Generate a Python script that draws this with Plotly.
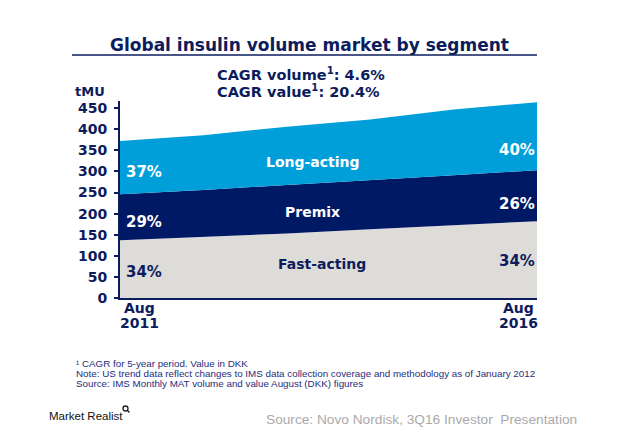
import numpy as np
import plotly.graph_objects as go

years = [2011, 2012, 2013, 2014, 2015, 2016]
fast_acting = [137, 145, 153, 163, 173, 182]
premix = [109, 111, 115, 116, 118, 121]
long_acting = [126, 130, 138, 144, 156, 161]
y_ticks = [0, 50, 100, 150, 200, 250, 300, 350, 400, 450]
x_labels = ["Aug<br>2011", "Aug<br>2016"]
pct_2011 = ["34%", "29%", "37%"]
pct_2016 = ["34%", "26%", "40%"]
segment_names = ["Fast-acting", "Premix", "Long-acting"]
title = "Global insulin volume market by segment"
cagr_lines = ["CAGR volume<sup>1</sup>: 4.6%", "CAGR value<sup>1</sup>: 20.4%"]
footnotes = ["¹ CAGR for 5-year period. Value in DKK",
             "Note: US trend data reflect changes to IMS data collection coverage and methodology as of January 2012",
             "Source: IMS Monthly MAT volume and value August (DKK) figures"]
source = "Source: Novo Nordisk, 3Q16 Investor  Presentation"

NAVY = "#0d1c5c"
DARK = "#001965"
LIGHT = "#009fda"
GRAY = "#dddcd8"
FONT = "DejaVu Sans"

# page offset compensation (body margin ~8px); plot area in figure px
L, R, T, B = 112, 529, 93, 290
W, H = 620, 446

def px(X):
    return (X - 8 - L) / (R - L)

def py(Y):
    return (B - (Y - 8)) / (B - T)

fig = go.Figure()
for vals, col, name in [(fast_acting, GRAY, segment_names[0]),
                        (premix, DARK, segment_names[1]),
                        (long_acting, LIGHT, segment_names[2])]:
    fig.add_trace(go.Scatter(x=years, y=vals, stackgroup="one", mode="lines",
                             line=dict(width=0, color=col), fillcolor=col,
                             name=name, hoverinfo="skip"))

c1 = np.array(fast_acting, float)
c2 = c1 + np.array(premix, float)
c3 = c2 + np.array(long_acting, float)
bands = [(np.zeros(6), c1), (c1, c2), (c2, c3)]

ann = []
tf = dict(family=FONT, size=15, weight="bold")
left_off = [-6.5, -11.5, -10]
right_off = [-3, -20, -33]
for i, (lo, hi) in enumerate(bands):
    col = NAVY if i == 0 else "white"
    ann.append(dict(x=years[0], y=(lo[0] + hi[0]) / 2 + left_off[i], text=pct_2011[i],
                    xanchor="left", xshift=4, showarrow=False, font=dict(tf, color=col)))
    ann.append(dict(x=years[-1], y=(lo[-1] + hi[-1]) / 2 + right_off[i], text=pct_2016[i],
                    xanchor="right", showarrow=False, font=dict(tf, color=col)))

seg_x = [2013.42, 2013.31, 2013.31]
seg_off = [3, -10, -19]
for i, (lo, hi) in enumerate(bands):
    m = (np.interp(seg_x[i], years, lo) + np.interp(seg_x[i], years, hi)) / 2
    ann.append(dict(x=seg_x[i], y=m + seg_off[i], text=segment_names[i], showarrow=False,
                    font=dict(family=FONT, size=14, weight="bold",
                              color=NAVY if i == 0 else "white")))

# x category labels (two lines each)
for xv, lab, sh in [(years[0], x_labels[0], 19), (years[-1], x_labels[1], -19)]:
    parts = lab.split("<br>")
    for j, part in enumerate(parts):
        ann.append(dict(x=xv, y=py(308 + 15 * j), yref="paper", text=part, xanchor="center",
                        xshift=sh, yanchor="middle", showarrow=False,
                        font=dict(family=FONT, size=14, weight="bold", color=NAVY)))

ann.append(dict(xref="paper", yref="paper", x=px(309), y=py(45), yanchor="middle",
                text=title, showarrow=False,
                font=dict(family=FONT, size=17, weight="bold", color=NAVY)))
for j, line in enumerate(cagr_lines):
    ann.append(dict(xref="paper", yref="paper", x=px(215), y=py(74 + 17 * j), xanchor="left",
                    yanchor="middle", text=line, showarrow=False,
                    font=dict(family=FONT, size=14.5, weight="bold", color=NAVY)))
ann.append(dict(xref="paper", yref="paper", x=px(73), y=py(91), xanchor="left", yanchor="middle",
                text="tMU", showarrow=False,
                font=dict(family=FONT, size=13, weight="bold", color=NAVY)))
for j, line in enumerate(footnotes):
    ann.append(dict(xref="paper", yref="paper", x=px(74), y=py(363 + 10 * j), xanchor="left",
                    yanchor="middle", text=line, showarrow=False,
                    font=dict(family="Liberation Sans", size=9.8, color="#1f2d7a")))
ann.append(dict(xref="paper", yref="paper", x=px(47), y=py(416), xanchor="left", yanchor="middle",
                text="Market Realist", showarrow=False,
                font=dict(family="Liberation Sans", size=11.5, color="#111111")))
ann.append(dict(xref="paper", yref="paper", x=px(579), y=py(419), xanchor="right", yanchor="middle",
                text=source, showarrow=False,
                font=dict(family="Liberation Sans", size=13.7, color="#aaaaaa")))

fig.update_layout(
    width=W, height=H,
    margin=dict(l=L, r=W - R, t=T, b=H - B),
    paper_bgcolor="white", plot_bgcolor="white",
    showlegend=False,
    annotations=ann,
)
# title underline
fig.add_shape(type="line", xref="paper", yref="paper", x0=px(72), x1=px(537), y0=py(55), y1=py(55),
              line=dict(color=NAVY, width=1.5))
# small magnifier mark of the logo
fig.add_shape(type="circle", xref="paper", yref="paper", x0=px(123), x1=px(128), y0=py(411), y1=py(406),
              line=dict(color="#222222", width=1.3))
fig.add_shape(type="line", xref="paper", yref="paper", x0=px(127), x1=px(129.5), y0=py(410), y1=py(412.5),
              line=dict(color="#222222", width=1.5))

fig.update_xaxes(range=[2011, 2016], showticklabels=False, showgrid=False, zeroline=False,
                 showline=True, linecolor=NAVY, linewidth=2, ticks="")
fig.update_yaxes(range=[0, 467], tickvals=y_ticks, showgrid=False, zeroline=False,
                 showline=True, linecolor=NAVY, linewidth=2, ticks="outside", ticklen=4,
                 tickcolor=NAVY, tickwidth=2, ticklabelstandoff=4,
                 tickfont=dict(family=FONT, size=14, weight="bold", color=NAVY))

fig.write_html("out.html")
